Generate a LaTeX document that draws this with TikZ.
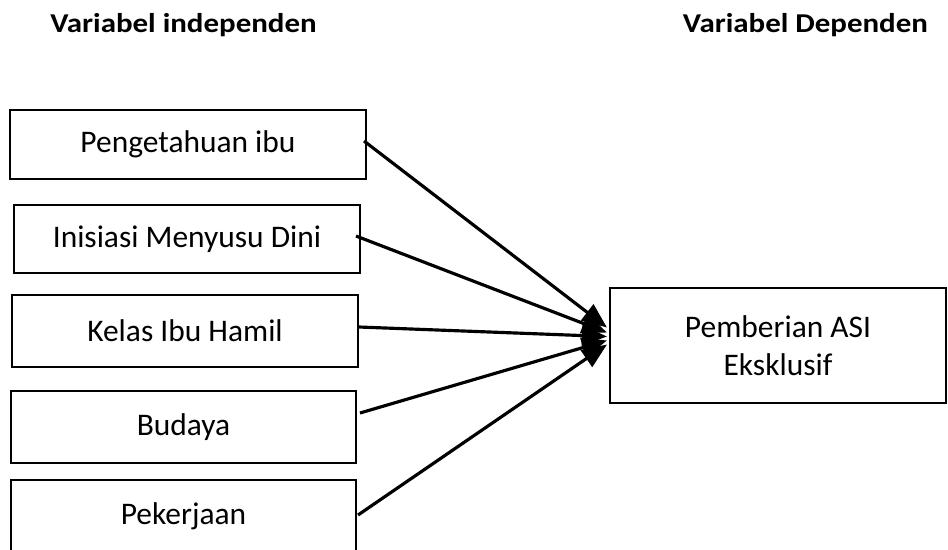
\documentclass[tikz,border=0pt]{standalone}
\usepackage{fontspec}
\setmainfont{Carlito}
\usepackage{graphicx}
\usepackage{tikz}
\usetikzlibrary{arrows.meta,positioning,calc}

\begin{document}
\begin{tikzpicture}[x=0.02cm,y=-0.02cm,
    varbox/.style={draw,line width=1.2pt,inner sep=0pt,align=center,
      font=\fontsize{17.9}{21.6}\selectfont},
    head/.style={font=\fontsize{17.6}{20}\selectfont\bfseries,anchor=base,inner sep=0pt},
    link/.style={line width=1.8pt,-{Triangle[length=0.5cm,width=0.4cm]}}]
  \useasboundingbox (0,0) rectangle (948,549);
  \node[head] (hind) at (183.5,32) {\scalebox{1}[0.88]{Variabel independen}};
  \node[head] (hdep) at (805.5,32) {\scalebox{1}[0.88]{Variabel Dependen}};
  \node[varbox,minimum width=7.12cm,minimum height=1.38cm] (b1) at (188,144.5) {Pengetahuan ibu};
  \node[varbox,minimum width=6.92cm,minimum height=1.36cm] (b2) at (187,239) {Inisiasi Menyusu Dini};
  \node[varbox,minimum width=6.92cm,minimum height=1.44cm] (b3) at (185,331) {Kelas Ibu Hamil};
  \node[varbox,minimum width=6.9cm,minimum height=1.44cm] (b4) at (183.5,427) {Budaya};
  \node[varbox,minimum width=6.9cm,minimum height=1.44cm] (b5) at (183.5,516) {Pekerjaan};
  \node[varbox,minimum width=6.72cm,minimum height=2.3cm] (tgt) at (778,345.5) {Pemberian ASI\\Eksklusif};
  \draw[link] ($(b1.east)+(-3,-3.5)$) -- ($(tgt.west)+(-2,-18)$);
  \draw[link] ($(b2.east)+(-5,-3)$) -- ($(tgt.west)+(-2,-13)$);
  \draw[link] ($(b3.east)+(0,-4)$) -- ($(tgt.west)+(-2,-9)$);
  \draw[link] ($(b4.east)+(3,-14)$) -- ($(tgt.west)+(-2,-5)$);
  \draw[link] ($(b5.east)+(1,-1)$) -- ($(tgt.west)+(-2,-1)$);
\end{tikzpicture}
\end{document}
